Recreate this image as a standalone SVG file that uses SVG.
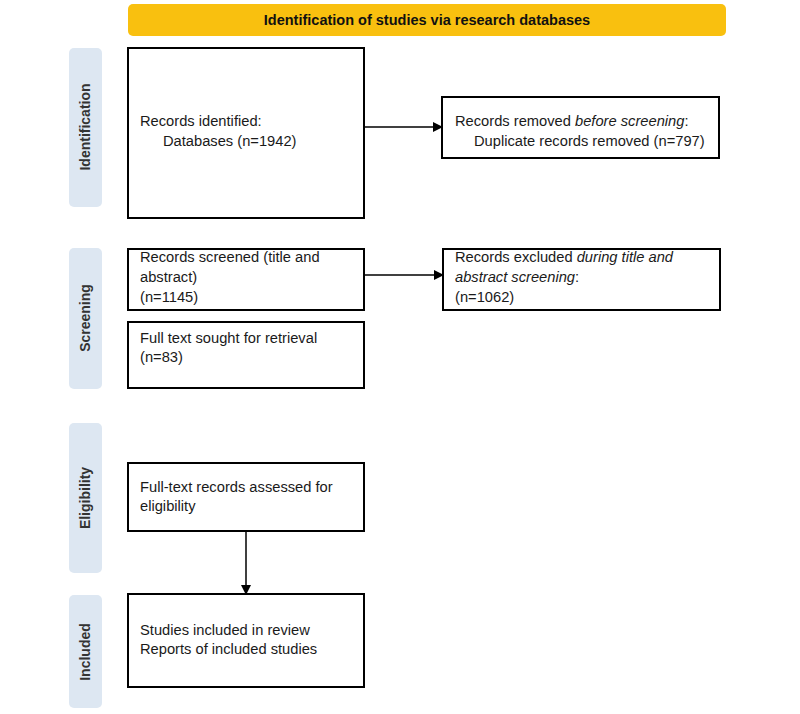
<svg xmlns="http://www.w3.org/2000/svg" width="800" height="714" viewBox="0 0 800 714">
<defs>
<style>
.box{fill:#fff;stroke:#000;stroke-width:2}
.side{fill:#dde7f2}
.t{font-family:"Liberation Sans",Arial,sans-serif;font-size:14.7px;fill:#1a1a1a}
.s{font-family:"Liberation Sans",Arial,sans-serif;font-size:14px;font-weight:bold;fill:#333;text-anchor:middle}
.h{font-family:"Liberation Sans",Arial,sans-serif;font-size:14.5px;font-weight:bold;fill:#111;text-anchor:middle}
.c{stroke:#000;stroke-width:1.5;fill:none;marker-end:url(#ah)}
</style>
<marker id="ah" markerWidth="10" markerHeight="10" refX="9" refY="5" orient="auto" markerUnits="userSpaceOnUse">
<path d="M0,0 L10,5 L0,10 Z" fill="#000"/>
</marker>
</defs>
<rect width="800" height="714" fill="#fff"/>
<g id="header">
<rect x="128" y="4" width="598" height="32" rx="5" fill="#f9c00f"/>
<text x="427" y="25" class="h">Identification of studies via research databases</text>
</g>
<g id="phase-identification">
<rect class="side" x="69" y="48" width="33" height="159" rx="5"/>
<text class="s" transform="translate(90,127) rotate(-90)">Identification</text>
</g>
<g id="phase-screening">
<rect class="side" x="69" y="248" width="33" height="141" rx="5"/>
<text class="s" transform="translate(90,318) rotate(-90)">Screening</text>
</g>
<g id="phase-eligibility">
<rect class="side" x="69" y="423" width="33" height="150" rx="5"/>
<text class="s" transform="translate(90,498) rotate(-90)">Eligibility</text>
</g>
<g id="phase-included">
<rect class="side" x="69" y="595" width="33" height="113" rx="5"/>
<text class="s" transform="translate(90,652) rotate(-90)">Included</text>
</g>
<g id="records-identified">
<rect class="box" x="128" y="48" width="236" height="170"/>
<text class="t" x="140" y="126">Records identified:</text>
<text class="t" x="163" y="146">Databases (n=1942)</text>
</g>
<g id="records-removed">
<rect class="box" x="442" y="97" width="277" height="61"/>
<text class="t" x="455" y="126">Records removed <tspan font-style="italic">before screening</tspan>:</text>
<text class="t" x="474" y="146">Duplicate records removed (n=797)</text>
</g>
<g id="records-screened">
<rect class="box" x="128" y="249" width="236" height="61"/>
<text class="t" x="140" y="262">Records screened (title and</text>
<text class="t" x="140" y="282">abstract)</text>
<text class="t" x="140" y="302">(n=1145)</text>
</g>
<g id="records-excluded">
<rect class="box" x="443" y="249" width="277" height="61"/>
<text class="t" x="455" y="262">Records excluded <tspan font-style="italic">during title and</tspan></text>
<text class="t" x="455" y="282"><tspan font-style="italic">abstract screening</tspan>:</text>
<text class="t" x="455" y="302">(n=1062)</text>
</g>
<g id="full-text-sought">
<rect class="box" x="128" y="322" width="236" height="66"/>
<text class="t" x="140" y="343">Full text sought for retrieval</text>
<text class="t" x="140" y="362">(n=83)</text>
</g>
<g id="full-text-assessed">
<rect class="box" x="128" y="463" width="236" height="68"/>
<text class="t" x="140" y="492">Full-text records assessed for</text>
<text class="t" x="140" y="511">eligibility</text>
</g>
<g id="studies-included">
<rect class="box" x="128" y="594" width="236" height="93"/>
<text class="t" x="140" y="635">Studies included in review</text>
<text class="t" x="140" y="654">Reports of included studies</text>
</g>
<g id="connectors">
<line class="c" x1="364" y1="127" x2="442" y2="127"/>
<line class="c" x1="364" y1="275" x2="443" y2="275"/>
<line class="c" x1="246" y1="531" x2="246" y2="594"/>
</g>
</svg>
